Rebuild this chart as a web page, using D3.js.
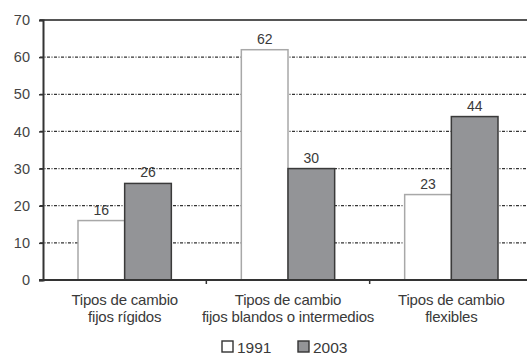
<!DOCTYPE html>
<html><head><meta charset="utf-8">
<script src="https://cdn.jsdelivr.net/npm/d3@7"></script>
<style>
html,body{margin:0;padding:0;background:#fff;overflow:hidden}
svg{display:block}
</style></head>
<body>
<svg id="c" width="527" height="355"></svg>
<script>
const categories = [["Tipos de cambio","fijos rígidos"],["Tipos de cambio","fijos blandos o intermedios"],["Tipos de cambio","flexibles"]];
const seriesNames = ["1991","2003"];
const values1991 = [16, 62, 23];
const values2003 = [26, 30, 44];
const yTicks = [0,10,20,30,40,50,60,70];

(function(){
const svg = d3.select("#c");
const mLeft = 43, mRight = 533, mTop = 20, mBottom = 280;
const font = "'Liberation Sans', Arial, sans-serif";
const y = d3.scaleLinear().domain([0,70]).range([mBottom, mTop]);
const x = d3.scaleBand().domain(d3.range(categories.length)).range([mLeft, mRight]).paddingInner(0).paddingOuter(0);
const xs = d3.scaleBand().domain(seriesNames).range([0, x.bandwidth()]).paddingInner(0).paddingOuter(0.75);

// gridlines
svg.append("g").selectAll("line").data(yTicks.filter(t => t>0 && t<70)).join("line")
  .attr("x1", mLeft-3).attr("x2", 527).attr("y1", d=>y(d)).attr("y2", d=>y(d))
  .attr("stroke", "#333").attr("stroke-width", 1.2).attr("stroke-dasharray", "3,1.5,1,1.5");
// top line
svg.append("line").attr("x1", mLeft-3).attr("x2", 527).attr("y1", y(70)).attr("y2", y(70))
  .attr("stroke", "#555").attr("stroke-width", 2);

const data = [];
categories.forEach((c,i)=>{
  data.push({i, s:"1991", v: values1991[i]});
  data.push({i, s:"2003", v: values2003[i]});
});
const g = svg.append("g");
g.selectAll("rect").data(data).join("rect")
  .attr("x", d => x(d.i) + xs(d.s))
  .attr("y", d => y(d.v))
  .attr("width", xs.bandwidth())
  .attr("height", d => mBottom - y(d.v))
  .attr("fill", d => d.s==="1991" ? "#fff" : "#939497")
  .attr("stroke", d => d.s==="1991" ? "#a8a8a8" : "#3a3a3a")
  .attr("stroke-width", 1.5);
g.selectAll("text").data(data).join("text")
  .attr("x", d => x(d.i) + xs(d.s) + xs.bandwidth()/2)
  .attr("y", d => y(d.v) - 6)
  .attr("text-anchor","middle")
  .attr("font-family", font).attr("font-size", 14).attr("fill","#3a3a3a")
  .text(d => d.v);

// y axis
const yAxis = d3.axisLeft(y).tickValues(yTicks).tickSize(4).tickPadding(9);
const ya = svg.append("g").attr("transform", `translate(${mLeft},0)`).call(yAxis);
ya.select(".domain").attr("stroke","#333").attr("stroke-width",2);
ya.selectAll(".tick line").attr("stroke","#333").attr("stroke-width",1.5);
ya.selectAll(".tick text").attr("font-family",font).attr("font-size",14.5).attr("fill","#444");

// x axis
svg.append("line").attr("x1", mLeft-4).attr("x2", 527).attr("y1", mBottom).attr("y2", mBottom)
  .attr("stroke","#333").attr("stroke-width",2);
svg.append("g").selectAll("line").data(d3.range(1, categories.length)).join("line")
  .attr("x1", d => x(d)).attr("x2", d => x(d)).attr("y1", mBottom).attr("y2", mBottom+4)
  .attr("stroke","#333").attr("stroke-width",1.5);

const cl = svg.append("g").selectAll("text").data(categories).join("text")
  .attr("text-anchor","middle").attr("font-family",font).attr("font-size",15).attr("fill","#3a3a3a")
  .attr("letter-spacing", -0.2);
cl.each(function(d,i){
  const t = d3.select(this);
  d.forEach((line,k)=>{
    t.append("tspan").attr("x", x(i)+x.bandwidth()/2).attr("y", 305 + k*17).text(line);
  });
});

// legend
const leg = svg.append("g");
const legX = [222, 298];
seriesNames.forEach((s,k)=>{
  leg.append("rect").attr("x", legX[k]).attr("y", 341).attr("width", 11).attr("height", 11)
    .attr("fill", k===0 ? "#fff" : "#939497").attr("stroke","#333").attr("stroke-width",1.4);
  leg.append("text").attr("x", legX[k]+15).attr("y", 352.5)
    .attr("font-family",font).attr("font-size",15.5).attr("fill","#3a3a3a").text(s);
});
})();
</script>
</body></html>
